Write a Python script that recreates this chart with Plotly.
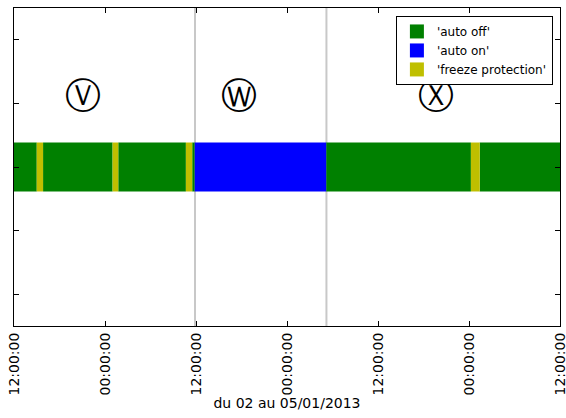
import plotly.graph_objects as go
import pandas as pd

# state changes over the period (time, state)
change_times = [
    "2013-01-02 12:00", "2013-01-02 15:00", "2013-01-02 15:50",
    "2013-01-03 01:00", "2013-01-03 01:45", "2013-01-03 10:40",
    "2013-01-03 11:30", "2013-01-03 11:50", "2013-01-04 05:10",
    "2013-01-05 00:15", "2013-01-05 01:25",
]
change_states = [
    "'auto off'", "'freeze protection'", "'auto off'",
    "'freeze protection'", "'auto off'", "'freeze protection'",
    "'auto off'", "'auto on'", "'auto off'",
    "'freeze protection'", "'auto off'",
]
period_end = "2013-01-05 12:00"

states = ["'auto off'", "'auto on'", "'freeze protection'"]
state_colors = ["#008000", "#0000ff", "#bfbf00"]

# event markers (vertical lines) and labels
event_lines = ["2013-01-03 11:52", "2013-01-04 05:12"]
label_times = ["2013-01-02 21:05", "2013-01-03 17:40", "2013-01-04 19:40"]
label_texts = ["Ⓥ", "Ⓦ", "Ⓧ"]
label_y = 3.57

x_ticks = pd.date_range("2013-01-02 12:00", "2013-01-05 12:00", freq="12h")
y_ticks = [0.5, 1.5, 2.5, 3.5, 4.5]

starts = pd.to_datetime(change_times)
ends = list(starts[1:]) + [pd.Timestamp(period_end)]
segs = pd.DataFrame({"start": starts, "end": ends, "state": change_states})
segs["dur"] = (segs["end"] - segs["start"]).dt.total_seconds() * 1000

fig = go.Figure()

for t in event_lines:
    fig.add_vline(x=t, line=dict(color="#c8c8c8", width=2), layer="below")

for st, col in zip(states, state_colors):
    d = segs[segs["state"] == st]
    fig.add_trace(go.Bar(
        y=[2.5] * len(d),
        x=d["dur"],
        base=d["start"].dt.strftime("%Y-%m-%d %H:%M:%S"),
        orientation="h",
        width=0.77,
        name=st,
        legendgroup=st,
        showlegend=False,
        marker=dict(color=col, line=dict(width=0)),
    ))
    # legend swatch
    fig.add_trace(go.Scatter(
        x=[None], y=[None], mode="markers", name=st, legendgroup=st,
        marker=dict(symbol="square", size=14, color=col),
    ))

fig.add_trace(go.Scatter(
    x=label_times, y=[label_y] * 3, text=label_texts, mode="text",
    textfont=dict(size=36, color="black", family="DejaVu Sans"),
    showlegend=False, hoverinfo="skip",
))

fig.update_layout(
    width=566, height=418,
    margin=dict(l=14, r=6, t=8, b=92),
    plot_bgcolor="white", paper_bgcolor="white",
    barmode="overlay",
    font=dict(family="DejaVu Sans", color="black"),
    legend=dict(
        x=0.987, y=0.975, xanchor="right", yanchor="top",
        bordercolor="black", borderwidth=1, bgcolor="white",
        font=dict(size=12), tracegroupgap=0, itemwidth=30,
        itemsizing="trace",
    ),
)

fig.update_xaxes(
    type="date", automargin=False,
    range=["2013-01-02 12:00", "2013-01-05 12:00"],
    tickvals=x_ticks, tickformat="%H:%M:%S", tickangle=-90,
    tickfont=dict(size=14), ticklabeloverflow="allow",
    ticks="inside", ticklen=5, tickcolor="black",
    showline=True, linecolor="black", linewidth=1, mirror="allticks",
    showgrid=False, zeroline=False,
    title=dict(text="du 02 au 05/01/2013", font=dict(size=14), standoff=2),
)
fig.update_yaxes(
    range=[0, 5], tickvals=y_ticks, showticklabels=False, automargin=False,
    ticks="inside", ticklen=5, tickcolor="black",
    showline=True, linecolor="black", linewidth=1, mirror="allticks",
    showgrid=False, zeroline=False,
)

# drop the page's default body margin so the figure sits at the corner
fig.write_html("out.html", config={"displayModeBar": False},
               post_script="document.body.style.margin='0';")
